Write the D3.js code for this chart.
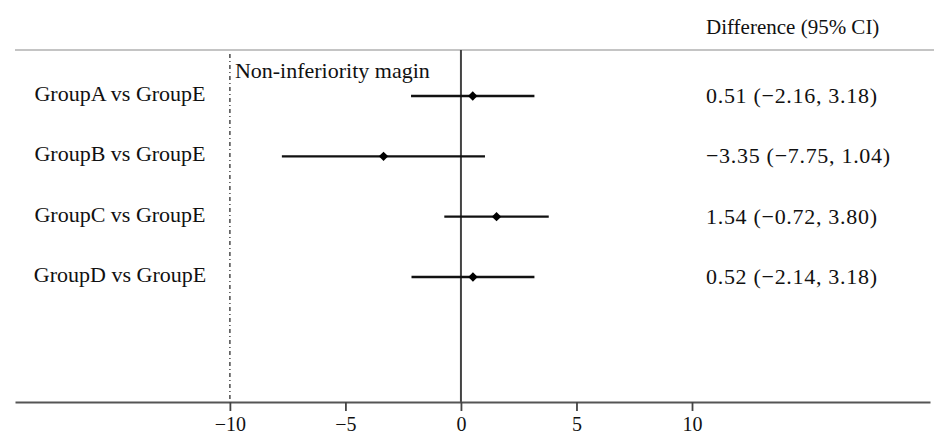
<!DOCTYPE html>
<html>
<head>
<meta charset="utf-8">
<script src="https://cdn.jsdelivr.net/npm/d3@7"></script>
<style>
  body { margin: 0; background: #fff; }
  text { font-family: "Liberation Serif", "DejaVu Serif", serif; fill: #111; }
</style>
</head>
<body>
<div class="chart"></div>
<script>
// data
var groups = ["GroupA vs GroupE", "GroupB vs GroupE", "GroupC vs GroupE", "GroupD vs GroupE"];
var estimates = [0.51, -3.35, 1.54, 0.52];
var lowers = [-2.16, -7.75, -0.72, -2.14];
var uppers = [3.18, 1.04, 3.80, 3.18];
var ciLabels = ["0.51 (\u22122.16, 3.18)", "\u22123.35 (\u22127.75, 1.04)", "1.54 (\u22120.72, 3.80)", "0.52 (\u22122.14, 3.18)"];
var tickValues = [-10, -5, 0, 5, 10];
var margin = -10;

var svgWidth = 934;
var svgHeight = 437;

var svg = d3.select(".chart")
  .append("svg")
  .attr("width", svgWidth)
  .attr("height", svgHeight);

var axisY = 402;
var topY = 50;

var x = d3.scaleLinear()
  .domain([-19.3, 20.3])
  .range([15, 930]);

var y = d3.scalePoint()
  .domain(groups)
  .range([96, 277]);

var rows = groups.map(function(g, i) {
  return { group: g, est: estimates[i], lo: lowers[i], hi: uppers[i], label: ciLabels[i] };
});

// top rule
svg.append("line")
  .attr("x1", 15).attr("x2", svgWidth)
  .attr("y1", topY).attr("y2", topY)
  .attr("stroke", "#c4c4c4")
  .attr("stroke-width", 2);

// header
svg.append("text")
  .attr("x", 706)
  .attr("y", 34)
  .style("font-size", "21px")
  .text("Difference (95% CI)");

// non-inferiority margin line
svg.append("line")
  .attr("x1", x(margin)).attr("x2", x(margin))
  .attr("y1", topY + 4).attr("y2", axisY)
  .attr("stroke", "#555")
  .attr("stroke-width", 1.6)
  .attr("stroke-dasharray", "4,3,1,3");

svg.append("text")
  .attr("x", x(margin) + 5)
  .attr("y", 78)
  .style("font-size", "22px")
  .text("Non-inferiority magin");

// zero line
svg.append("line")
  .attr("x1", x(0)).attr("x2", x(0))
  .attr("y1", topY).attr("y2", axisY)
  .attr("stroke", "#444")
  .attr("stroke-width", 2);

// x axis
var xAxis = svg.append("g")
  .attr("transform", "translate(0," + axisY + ")")
  .call(d3.axisBottom(x)
    .tickValues(tickValues)
    .tickSizeInner(9)
    .tickSizeOuter(0)
    .tickPadding(6)
    .tickFormat(function(d) { return d < 0 ? "\u2212" + Math.abs(d) : d; }));

xAxis.select(".domain")
  .attr("stroke", "#555")
  .attr("stroke-width", 2);
xAxis.selectAll(".tick line")
  .attr("stroke", "#444")
  .attr("stroke-width", 1.8);
xAxis.selectAll(".tick text")
  .attr("fill", "#111")
  .style("font-family", "'Liberation Serif', serif")
  .style("font-size", "20px");

// group labels
svg.selectAll(".group-label")
  .data(rows)
  .enter()
  .append("text")
  .attr("class", "group-label")
  .attr("x", 120)
  .attr("y", d => y(d.group) + 5)
  .attr("text-anchor", "middle")
  .style("font-size", "22px")
  .text(d => d.group);

// CI lines
svg.selectAll(".ci")
  .data(rows)
  .enter()
  .append("line")
  .attr("class", "ci")
  .attr("x1", d => x(d.lo))
  .attr("x2", d => x(d.hi))
  .attr("y1", d => y(d.group))
  .attr("y2", d => y(d.group))
  .attr("stroke", "#111")
  .attr("stroke-width", 2.4);

// point estimates (square rotated 45 degrees)
svg.selectAll(".pt")
  .data(rows)
  .enter()
  .append("path")
  .attr("class", "pt")
  .attr("d", d3.symbol().type(d3.symbolSquare).size(44))
  .attr("transform", d => "translate(" + x(d.est) + "," + y(d.group) + ") rotate(45)")
  .attr("fill", "#000");

// CI text
svg.selectAll(".ci-label")
  .data(rows)
  .enter()
  .append("text")
  .attr("class", "ci-label")
  .attr("x", 706)
  .attr("y", d => y(d.group) + 7)
  .style("font-size", "22px")
  .style("letter-spacing", "0.7px")
  .text(d => d.label);
</script>
</body>
</html>
